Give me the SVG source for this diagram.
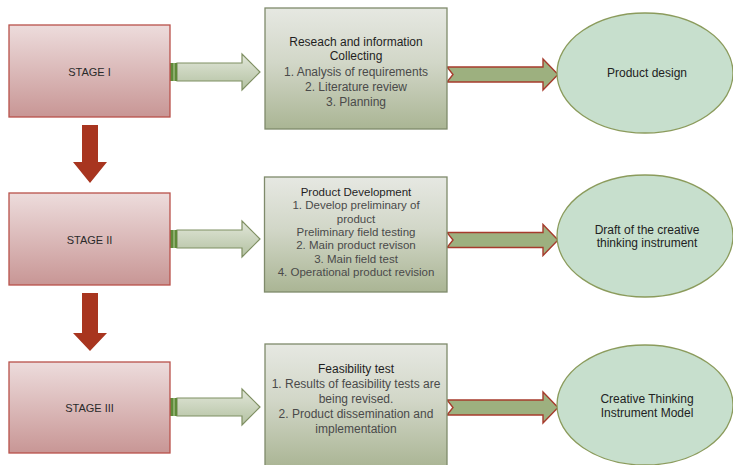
<svg xmlns="http://www.w3.org/2000/svg" width="733" height="465" viewBox="0 0 733 465">
<defs>
<linearGradient id="gStage" x1="0" y1="0" x2="0" y2="1">
<stop offset="0" stop-color="#eddcdc"/><stop offset="1" stop-color="#c89695"/>
</linearGradient>
<linearGradient id="gBox" x1="0" y1="0" x2="0" y2="1">
<stop offset="0" stop-color="#e6e8e2"/><stop offset="0.45" stop-color="#d2d7c8"/><stop offset="1" stop-color="#aab594"/>
</linearGradient>
<linearGradient id="gArrow" x1="0" y1="0" x2="0" y2="1">
<stop offset="0" stop-color="#e2e7da"/><stop offset="1" stop-color="#b3c1a1"/>
</linearGradient>
<polygon id="greenArrow" points="177,-9 242,-9 242,-18 260,0 242,18 242,9 177,9"/>
<polygon id="redArrow" points="447,-7.5 543,-7.5 543,-15.5 558,0 543,15.5 543,7.5 447,7.5 453,0"/>
</defs>
<style>
.stage{fill:url(#gStage);stroke:#b8514a;stroke-width:1.3}
.box{fill:url(#gBox);stroke:#7f8a6b;stroke-width:1.3}
.ell{fill:#c7dfcd;stroke:#8b9b5c;stroke-width:1.3}
.ga{fill:url(#gArrow);stroke:#7f8f62;stroke-width:1.2}
.ra{fill:#9db07f;stroke:#a63b2c;stroke-width:1.4}
.stub{fill:#5f8a3a}
.down{fill:#a8351f}
text{font-family:"Liberation Sans",Arial,sans-serif;text-anchor:middle}
.st{font-size:11px;fill:#2a2a2a}
.bt{font-size:12px;fill:#1f1f1f}
.bi{font-size:12px;fill:#4a4a4a}
.b2{font-size:11.5px}
.et{font-size:12px;fill:#222}
</style>
<rect width="733" height="465" fill="#ffffff"/>
<g id="connectors">
<g transform="translate(0,72)"><use href="#greenArrow" class="ga"/><rect x="170" y="-9" width="7" height="18" class="stub"/><line x1="174" y1="-9" x2="174" y2="9" stroke="#b9d19d" stroke-width="1"/></g>
<g transform="translate(0,239)"><use href="#greenArrow" class="ga"/><rect x="170" y="-9" width="7" height="18" class="stub"/><line x1="174" y1="-9" x2="174" y2="9" stroke="#b9d19d" stroke-width="1"/></g>
<g transform="translate(0,407)"><use href="#greenArrow" class="ga"/><rect x="170" y="-9" width="7" height="18" class="stub"/><line x1="174" y1="-9" x2="174" y2="9" stroke="#b9d19d" stroke-width="1"/></g>
<g transform="translate(0,74.5)"><use href="#redArrow" class="ra"/></g>
<g transform="translate(0,240)"><use href="#redArrow" class="ra"/></g>
<g transform="translate(0,407.5)"><use href="#redArrow" class="ra"/></g>
<polygon class="down" points="82,125 98,125 98,162 107,162 90,183 73,162 82,162"/>
<polygon class="down" points="82,293 98,293 98,333 107,333 90,351 73,333 82,333"/>
</g>
<g id="stage1"><rect class="stage" x="9" y="25" width="161" height="92"/><text class="st" x="89.5" y="75.5">STAGE I</text></g>
<g id="stage2"><rect class="stage" x="9" y="193" width="161" height="92"/><text class="st" x="89.5" y="243.5">STAGE II</text></g>
<g id="stage3"><rect class="stage" x="9" y="362" width="161" height="91"/><text class="st" x="89.5" y="411.5">STAGE III</text></g>
<g id="box1"><rect class="box" x="265" y="8" width="182" height="121"/>
<text class="bt" x="356" y="46">Reseach and information</text>
<text class="bt" x="356" y="60">Collecting</text>
<text class="bi" x="356" y="76">1. Analysis of requirements</text>
<text class="bi" x="356" y="91">2. Literature review</text>
<text class="bi" x="356" y="105.5">3. Planning</text>
</g>
<g id="box2"><rect class="box" x="264.5" y="177" width="182.5" height="115"/>
<text class="bt b2" x="356" y="196">Product Development</text>
<text class="bi b2" x="356" y="209.3">1. Develop preliminary of</text>
<text class="bi b2" x="356" y="222.6">product</text>
<text class="bi b2" x="356" y="235.9">Preliminary field testing</text>
<text class="bi b2" x="356" y="249.2">2. Main product revison</text>
<text class="bi b2" x="356" y="262.5">3. Main field test</text>
<text class="bi b2" x="356" y="275.8">4. Operational product revision</text>
</g>
<g id="box3"><rect class="box" x="265" y="344" width="182" height="124"/>
<text class="bt" x="356" y="373">Feasibility test</text>
<text class="bi" x="356" y="388">1. Results of feasibility tests are</text>
<text class="bi" x="356" y="403">being revised.</text>
<text class="bi" x="356" y="418">2. Product dissemination and</text>
<text class="bi" x="356" y="433">implementation</text>
</g>
<g id="result1"><ellipse class="ell" cx="645" cy="73" rx="88" ry="60"/><text class="et" x="647" y="77">Product design</text></g>
<g id="result2"><ellipse class="ell" cx="645" cy="236" rx="88" ry="61"/><text class="et" x="647" y="234">Draft of the creative</text><text class="et" x="647" y="247">thinking instrument</text></g>
<g id="result3"><ellipse class="ell" cx="645" cy="405" rx="88" ry="60"/><text class="et" x="647" y="403">Creative Thinking</text><text class="et" x="647" y="417">Instrument Model</text></g>
</svg>
